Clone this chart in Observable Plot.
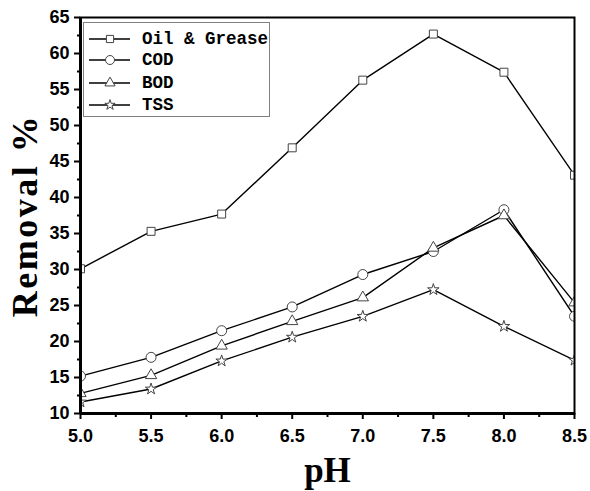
<!DOCTYPE html>
<html><head><meta charset="utf-8">
<script src="https://cdn.jsdelivr.net/npm/d3@7"></script>
<script src="https://cdn.jsdelivr.net/npm/@observablehq/plot@0.6"></script>
<style>
body{margin:0;background:#fff;}
#wrap{position:relative;width:590px;height:491px;color:#000;}
#legend{position:absolute;left:83px;top:22px;width:187px;height:95px;border:1px solid #808080;box-sizing:border-box;background:#fff;}
.row{position:absolute;left:0;height:22px;display:flex;align-items:center;}
.row svg{display:block;}
.row span{font-family:"Liberation Mono",monospace;font-weight:bold;font-size:17.5px;margin-left:11px;white-space:pre;}
</style></head><body><div id="wrap"></div>
<script>
const pH = [5.0, 5.5, 6.0, 6.5, 7.0, 7.5, 8.0, 8.5];
const oilGrease = [30.1, 35.3, 37.7, 46.9, 56.3, 62.7, 57.4, 43.1];
const cod = [15.2, 17.8, 21.5, 24.8, 29.3, 32.5, 38.3, 23.5];
const bod = [12.8, 15.3, 19.4, 22.8, 26.1, 33.0, 37.5, 25.4];
const tss = [11.6, 13.4, 17.3, 20.6, 23.5, 27.2, 22.1, 17.4];
const seriesNames = ["Oil & Grease", "COD", "BOD", "TSS"];
const seriesValues = [oilGrease, cod, bod, tss];
const seriesSymbols = ["square", "circle", "triangle", "star"];
const seriesR = [4.5, 5, 4.2, 3.6];
const xTicks = [5.0, 5.5, 6.0, 6.5, 7.0, 7.5, 8.0, 8.5];
const xMinorTicks = [5.25, 5.75, 6.25, 6.75, 7.25, 7.75, 8.25];
const yTicks = [10, 15, 20, 25, 30, 35, 40, 45, 50, 55, 60, 65];
const yMinorTicks = [12.5, 17.5, 22.5, 27.5, 32.5, 37.5, 42.5, 47.5, 52.5, 57.5, 62.5];
const xDomain = [5.0, 8.5];
const yDomain = [10, 65];
const xLabel = "pH";
const yLabel = "Removal %";

const seriesMarks = seriesNames.flatMap((name, i) => {
  const rows = pH.map((x, j) => ({pH: x, value: seriesValues[i][j]}));
  return [
    Plot.line(rows, {x: "pH", y: "value", stroke: "black", strokeWidth: 1.4, clip: true}),
    Plot.dot(rows, {x: "pH", y: "value", symbol: () => seriesSymbols[i], r: seriesR[i], fill: "white", stroke: "#444", strokeWidth: 1, clip: true})
  ];
});

const tickFont = {fontSize: 18, fontWeight: "bold", fontFamily: "'Liberation Sans', Arial, sans-serif"};

const chart = Plot.plot({
  width: 590, height: 491,
  marginLeft: 80, marginRight: 16, marginTop: 17, marginBottom: 78,
  x: {domain: xDomain},
  y: {domain: yDomain},
  style: {background: "white", color: "black", overflow: "visible"},
  marks: [
    Plot.axisY({ticks: yMinorTicks, tickSize: 3, tickFormat: () => "", strokeWidth: 2, label: null}),
    Plot.axisY({ticks: yTicks, tickSize: 6, tickPadding: 5, tickFormat: d => String(d), strokeWidth: 2, label: null, ...tickFont}),
    Plot.axisX({ticks: xMinorTicks, tickSize: 4, tickFormat: () => "", strokeWidth: 2, label: null}),
    Plot.axisX({ticks: xTicks, tickSize: 6, tickPadding: 10, tickFormat: d => d.toFixed(1), strokeWidth: 2, label: null, ...tickFont}),
    ...seriesMarks,
    Plot.frame({stroke: "black", strokeWidth: 2}),
    Plot.ruleX([xDomain[0]], {stroke: "black", strokeWidth: 3}),
    Plot.ruleY([yDomain[0]], {stroke: "black", strokeWidth: 3}),
    Plot.text([yLabel], {frameAnchor: "left", dx: -55, rotate: -90, text: d => d, fontSize: 36, fontWeight: "bold", fontFamily: "'Liberation Serif', 'Times New Roman', serif", textAnchor: "middle", lineAnchor: "middle", fill: "black", className: "ylab"}),
    Plot.text([xLabel], {frameAnchor: "bottom", dy: 68, text: d => d, fontSize: 35, fontWeight: "bold", fontFamily: "'Liberation Serif', 'Times New Roman', serif", textAnchor: "middle", lineAnchor: "bottom", fill: "black"})
  ]
});

const wrap = document.getElementById("wrap");
wrap.appendChild(chart);
chart.querySelectorAll("text").forEach(t => {
  if (t.textContent === yLabel) t.setAttribute("letter-spacing", "2.5px");
});

// legend
const legend = document.createElement("div");
legend.id = "legend";
const rowTops = [5, 26, 49, 71];
seriesNames.forEach((name, i) => {
  const row = document.createElement("div");
  row.className = "row";
  row.style.top = rowTops[i] + "px";
  const svg = d3.create("svg").attr("width", 47).attr("height", 22);
  svg.append("line").attr("x1", 5).attr("x2", 46).attr("y1", 11).attr("y2", 11).attr("stroke", "black").attr("stroke-width", 1.4);
  const symType = {square: d3.symbolSquare, circle: d3.symbolCircle, triangle: d3.symbolTriangle, star: d3.symbolStar}[seriesSymbols[i]];
  const r = seriesR[i] * 0.9;
  svg.append("path").attr("d", d3.symbol(symType, r * r * Math.PI)()).attr("transform", "translate(26,11)").attr("fill", "white").attr("stroke", "#444").attr("stroke-width", 1);
  row.appendChild(svg.node());
  const span = document.createElement("span");
  span.textContent = name;
  row.appendChild(span);
  legend.appendChild(row);
});
wrap.appendChild(legend);
</script>
</body></html>
